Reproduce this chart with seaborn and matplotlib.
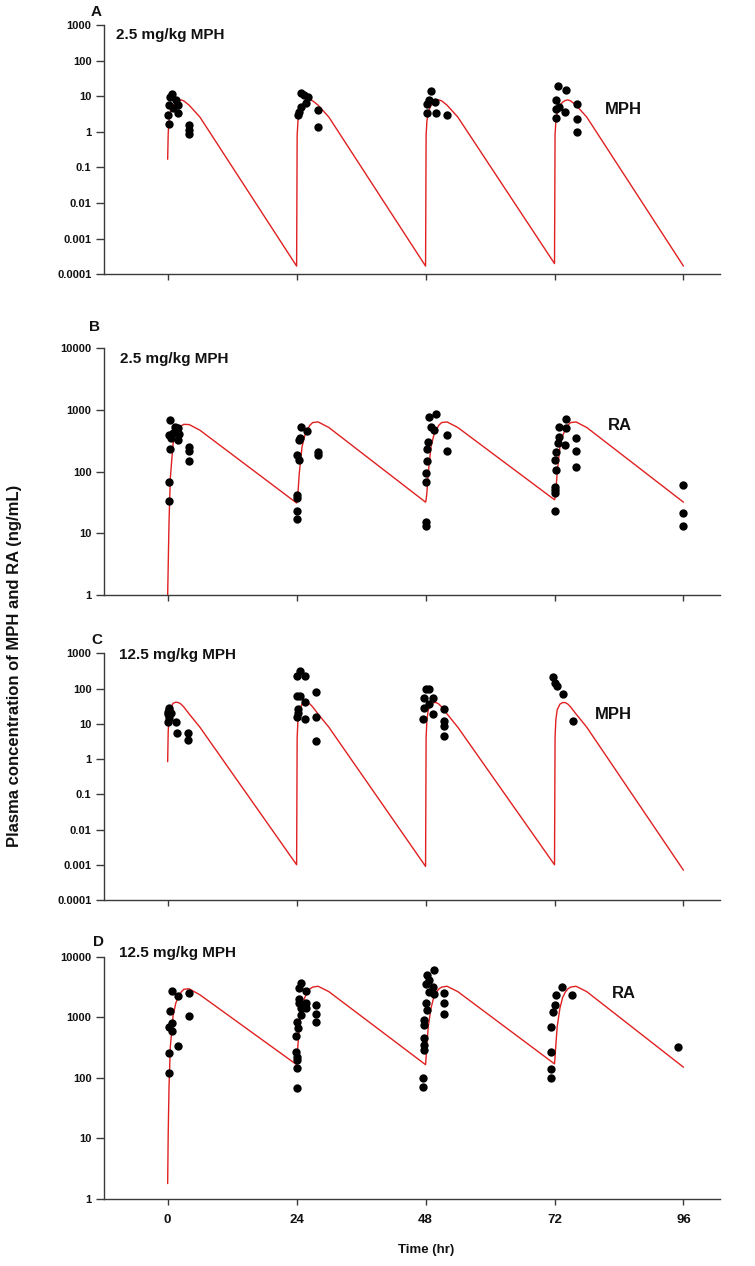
import numpy as np
import pandas as pd
import matplotlib
matplotlib.use("Agg")
import matplotlib.pyplot as plt
import seaborn as sns

# ---------------- observed data (time h, concentration ng/mL) ----------------
a_t = [0.25, 0.1, 0.2, 0.75, 0.5, 0.9, 1.55, 2.0, 2.0, 3.9, 3.9, 3.9,
       24.9, 25.3, 26.1, 24.9, 24.4, 24.2, 28.0, 28.0, 25.7,
       49.1, 48.7, 49.7, 48.2, 50.0, 52.0, 48.3,
       72.6, 74.2, 72.3, 72.9, 74.0, 72.3, 76.1, 76.1, 76.1, 72.2]
a_v = [1.7, 3.0, 5.7, 11.4, 9.5, 4.7, 7.9, 5.7, 3.4, 1.57, 1.14, 0.86,
       12.2, 11.0, 9.8, 5.1, 3.7, 3.0, 4.0, 1.35, 6.4,
       13.6, 7.9, 7.1, 3.4, 3.4, 3.0, 6.0,
       19.6, 14.5, 7.9, 5.1, 3.7, 2.4, 6.0, 2.3, 1.02, 4.3]

b_t = [0.5, 1.4, 2.0, 0.25, 1.0, 2.1, 0.7, 2.0, 0.5, 4.0, 4.0, 4.0, 0.2, 0.2,
       24.9, 26.0, 24.6, 24.4, 24.1, 24.4, 28.0, 28.0, 24.0, 24.0, 24.0, 24.0,
       48.6, 50.0, 49.0, 49.5, 48.4, 48.2, 48.2, 48.0, 48.0, 52.0, 52.0, 48.0, 48.0,
       74.1, 72.9, 74.1, 72.8, 73.9, 72.6, 72.3, 72.0, 72.3, 72.0, 76.0, 76.0, 76.0,
       72.0, 72.0, 72.0,
       96.0, 96.0, 96.0]
b_v = [686, 535, 503, 392, 417, 407, 347, 325, 230, 254, 218, 150, 67, 34,
       535, 456, 347, 320, 186, 154, 210, 186, 42, 38, 23, 17,
       760, 875, 535, 470, 303, 230, 148, 96, 69, 392, 215, 15, 13,
       727, 523, 503, 370, 270, 287, 210, 154, 106, 57, 347, 215, 120,
       50, 45, 23,
       60, 21, 13]

c_t = [0.3, 0.0, 0.6, 0.3, 0.0, 1.6, 1.7, 3.7, 3.7, 0.2, 0.1,
       24.6, 24.0, 25.5, 24.0, 24.6, 25.6, 27.6, 24.2, 24.0, 25.6, 27.6, 27.6, 24.3,
       48.0, 48.7, 47.8, 49.3, 47.8, 48.7, 49.3, 47.6, 51.5, 51.5, 51.5, 51.5,
       71.8, 72.0, 72.5, 73.5, 75.5]
c_v = [28.6, 18.5, 20.6, 14.9, 11.2, 11.2, 5.35, 5.35, 3.45, 25, 22,
       310, 224, 234, 61, 63, 41, 81, 27, 15.9, 13.9, 15.5, 3.2, 20,
       94, 99, 55, 55, 28.6, 35.5, 18.5, 13.9, 25.5, 12, 8.6, 4.5,
       215, 145, 117, 68, 12]

d_t = [0.8, 2.0, 3.9, 0.45, 0.8, 0.3, 0.75, 3.9, 2.0, 0.2, 0.2,
       24.9, 25.8, 24.4, 24.5, 24.4, 25.8, 25.8, 24.9, 24.8, 24.0, 24.3, 23.9, 23.8,
       24.0, 24.0, 24.0, 24.0, 27.7, 27.7, 27.7,
       49.5, 48.2, 48.7, 48.0, 49.3, 48.6, 49.6, 48.0, 48.2, 47.8, 47.8, 47.8, 47.8,
       47.8, 47.6, 47.6, 51.5, 51.5, 51.5,
       73.4, 75.3, 72.3, 72.0, 71.7, 71.4, 71.4, 71.4, 71.4,
       95.0]
d_v = [2737, 2230, 2470, 1260, 815, 680, 600, 1050, 340, 258, 121,
       3630, 2740, 3000, 1990, 1690, 1690, 1410, 1410, 1090, 850, 660, 490, 270,
       224, 196, 143, 67, 1590, 1130, 850,
       6000, 5000, 4100, 3500, 3200, 2650, 2400, 1690, 1310, 890, 740, 450, 350,
       288, 98, 71, 2470, 1690, 1150,
       3200, 2330, 2330, 1590, 1230, 700, 263, 138, 98,
       317]

# ---------------- model predictions (per dosing interval) ----------------
dose_times = [0, 24, 48, 72]
offsets = [0, 0.1, 0.25, 0.5, 1.0, 1.5, 2.0, 2.5, 3.0, 4.0, 6.0]
a_doses = [[0.17, 0.9, 2.0, 3.6, 5.5, 6.8, 7.6, 7.9, 7.4, 5.6, 2.6],
           [0.00017, 0.8, 2.0, 3.6, 5.5, 6.8, 7.6, 7.9, 7.4, 5.6, 2.6],
           [0.00017, 0.8, 2.0, 3.6, 5.5, 6.8, 7.6, 7.9, 7.4, 5.6, 2.6],
           [0.0002, 0.8, 2.0, 3.6, 5.5, 6.8, 7.6, 7.9, 7.4, 5.6, 2.6]]
a_troughs = [0.00017, 0.00017, 0.0002, 0.00017]

b_doses = [[1, 3, 15, 80, 280, 400, 480, 550, 585, 580, 470],
           [31, 34, 45, 95, 250, 380, 480, 570, 625, 640, 520],
           [32, 35, 46, 95, 250, 380, 480, 570, 625, 640, 520],
           [35, 38, 48, 98, 250, 380, 480, 570, 625, 640, 520]]
b_troughs = [31, 32, 35, 32]

c_doses = [[0.84, 6, 15, 27, 38, 41, 40, 36, 30, 19, 8],
           [0.001, 4, 13, 25, 36, 40, 40, 36, 30, 19, 8],
           [0.0009, 4, 13, 25, 36, 40, 40, 36, 30, 19, 8],
           [0.001, 4, 13, 25, 36, 40, 40, 36, 30, 19, 8]]
c_troughs = [0.001, 0.0009, 0.001, 0.0007]

d_doses = [[1.8, 12, 70, 330, 1050, 1700, 2200, 2600, 2900, 2950, 2350],
           [165, 220, 350, 700, 1400, 2100, 2600, 2950, 3150, 3250, 2650],
           [165, 220, 350, 700, 1400, 2100, 2600, 2950, 3150, 3250, 2650],
           [170, 225, 350, 700, 1400, 2100, 2600, 2950, 3150, 3250, 2650]]
d_troughs = [165, 165, 170, 150]

panel_letters = ["A", "B", "C", "D"]
dose_labels = ["2.5 mg/kg MPH", "2.5 mg/kg MPH", "12.5 mg/kg MPH", "12.5 mg/kg MPH"]
analyte_labels = ["MPH", "RA", "MPH", "RA"]
x_ticks = [0, 24, 48, 72, 96]
mph_ticks = [1e-4, 1e-3, 1e-2, 1e-1, 1, 10, 100, 1000]
mph_ticklabels = ["0.0001", "0.001", "0.01", "0.1", "1", "10", "100", "1000"]
ra_ticks = [1, 10, 100, 1000, 10000]
ra_ticklabels = ["1", "10", "100", "1000", "10000"]


def model_frame(doses, troughs):
    ts, vs = [], []
    for d0, vals, tr in zip(dose_times, doses, troughs):
        for o, v in zip(offsets, vals):
            ts.append(d0 + o)
            vs.append(v)
        if d0 == dose_times[-1]:
            ts.append(d0 + 24)
            vs.append(tr)
    return pd.DataFrame({"t": ts, "c": vs})


# ---------------- figure ----------------
sns.set_theme(style="ticks")
plt.rcParams["font.family"] = ["Liberation Sans", "DejaVu Sans"]
plt.rcParams["font.weight"] = "bold"

W, H = 755, 1266
fig = plt.figure(figsize=(W / 100, H / 100), dpi=100)

boxes = [(25, 274.3), (348.3, 595), (653.3, 900), (956.7, 1199)]
left_px, right_px = 104, 720

panels = [
    (a_t, a_v, a_doses, a_troughs, mph_ticks, mph_ticklabels, (1e-4, 1e3)),
    (b_t, b_v, b_doses, b_troughs, ra_ticks, ra_ticklabels, (1, 1e4)),
    (c_t, c_v, c_doses, c_troughs, mph_ticks, mph_ticklabels, (1e-4, 1e3)),
    (d_t, d_v, d_doses, d_troughs, ra_ticks, ra_ticklabels, (1, 1e4)),
]
letter_pos = [(91, 12), (89, 327), (91, 640), (93, 942)]
dose_pos = [(115.7, 35), (120, 359.3), (119, 655), (119, 953.3)]
analyte_pos = [(605, 109), (607.7, 425), (595, 714), (611.7, 993.5)]

red = "#e02020"
axis_col = "#3a3a3a"

for i, (tt, vv, doses, troughs, yt, ytl, ylim) in enumerate(panels):
    top, bot = boxes[i]
    ax = fig.add_axes([left_px / W, 1 - bot / H, (right_px - left_px) / W, (bot - top) / H])
    mdf = model_frame(doses, troughs)
    sns.lineplot(data=mdf, x="t", y="c", ax=ax, color=red, lw=1.0,
                 estimator=None, sort=False, zorder=2)
    odf = pd.DataFrame({"t": tt, "c": vv})
    sns.scatterplot(data=odf, x="t", y="c", ax=ax, color="black", s=36,
                    edgecolor="black", linewidth=0, zorder=3)
    ax.set_yscale("log")
    ax.set_ylim(*ylim)
    ax.set_xlim(-11.85, 102.8)
    ax.set_yticks(yt)
    ax.set_yticklabels(ytl)
    ax.yaxis.set_minor_locator(matplotlib.ticker.NullLocator())
    ax.set_xticks(x_ticks)
    if i == 3:
        ax.set_xticklabels([str(x) for x in x_ticks])
    else:
        ax.set_xticklabels([])
    ax.set_xlabel("")
    ax.set_ylabel("")
    for s in ["top", "right"]:
        ax.spines[s].set_visible(False)
    for s in ["left", "bottom"]:
        ax.spines[s].set_color(axis_col)
        ax.spines[s].set_linewidth(1.0)
    ax.tick_params(axis="y", direction="out", length=6, width=1.0, color=axis_col,
                   labelsize=8, pad=3, labelcolor="#111111")
    ax.tick_params(axis="x", direction="out", length=4.3, width=1.0, color=axis_col,
                   labelsize=9.5, pad=6.5, labelcolor="#111111")
    for lab in ax.get_yticklabels() + ax.get_xticklabels():
        lab.set_fontweight("bold")
    ax.set_facecolor("white")

    lx, ly = letter_pos[i]
    fig.text(lx / W, 1 - ly / H, panel_letters[i], fontsize=11, fontweight="bold",
             ha="left", va="center", color="#111111")
    dx, dy = dose_pos[i]
    fig.text(dx / W, 1 - dy / H, dose_labels[i], fontsize=11, fontweight="bold",
             ha="left", va="center", color="#111111")
    axx, axy = analyte_pos[i]
    fig.text(axx / W, 1 - axy / H, analyte_labels[i], fontsize=12, fontweight="bold",
             ha="left", va="center", color="#111111")

fig.text(14.5 / W, 1 - 666 / H, "Plasma concentration of MPH and RA (ng/mL)",
         rotation=90, fontsize=12, fontweight="bold", ha="center", va="center",
         color="#111111")
fig.text(426 / W, 1 - 1250 / H, "Time (hr)", fontsize=9.5, fontweight="bold",
         ha="center", va="center", color="#111111")

fig.savefig("out.png", dpi=100, facecolor="white")
